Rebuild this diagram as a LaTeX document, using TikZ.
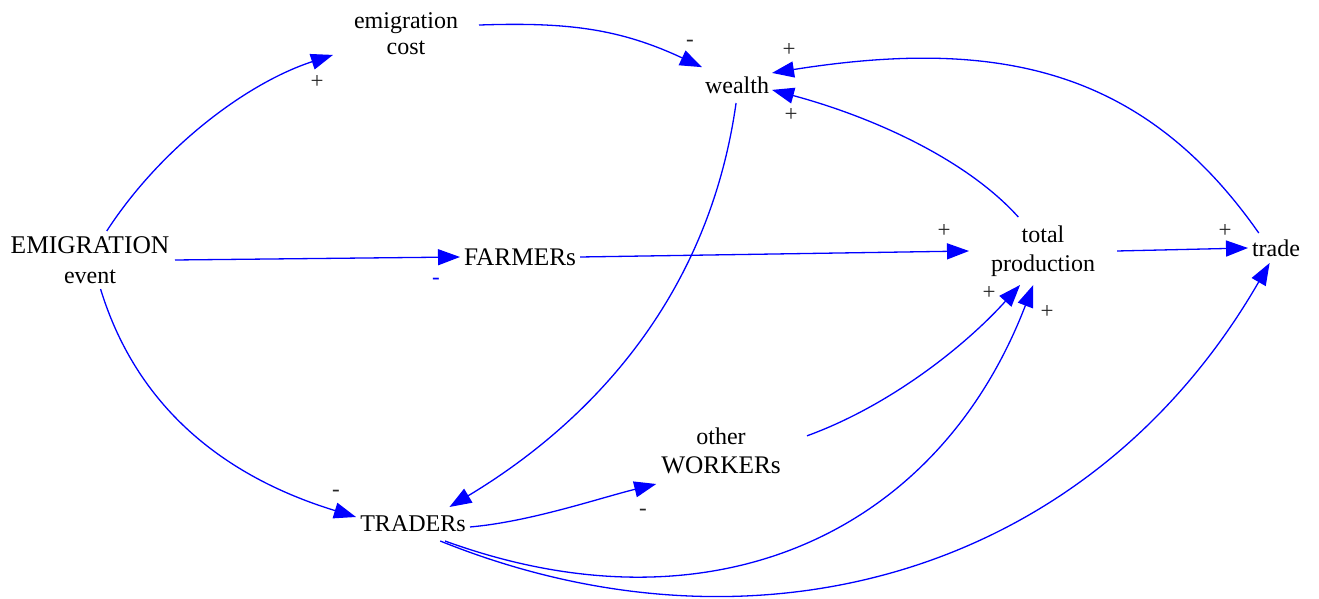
\documentclass[tikz,border=0pt]{standalone}
\usepackage{fontspec}
\setmainfont{Liberation Serif}
\usetikzlibrary{arrows.meta}
\newcommand{\capsize}{\fontsize{25.3}{30}\selectfont}
\begin{document}
\begin{tikzpicture}[x=1pt,y=1pt,
  var/.style={inner sep=0pt, outer sep=0pt, align=center,
    font=\fontsize{24}{27}\selectfont, text=black},
  link/.style={draw=blue, line width=1.3pt,
    -{Triangle[length=22pt,width=16pt]}},
  pol/.style={font=\fontsize{23}{23}\selectfont, text=black!85, inner sep=0pt}
]
\useasboundingbox (0,0) rectangle (1319,599);

% variables
\node[var, font=\fontsize{24}{26}\selectfont, minimum width=146pt, minimum height=48pt]
  (emcost)  at (406,565) {emigration\\cost};
\node[var, minimum width=70pt,  minimum height=36pt] (wealth)  at (737,514) {wealth};
\node[var, font=\fontsize{24}{30}\selectfont, minimum width=170pt, minimum height=58pt]
  (emig)    at (90,339)  {{\fontsize{25.5}{30}\selectfont EMIGRATION}\\event};
\node[var, font=\capsize, minimum width=120pt, minimum height=30pt] (farmers) at (520,342) {FARMERs};
\node[var, font=\fontsize{24}{29}\selectfont, minimum width=148pt, minimum height=68pt]
  (totprod) at (1043,348) {total\\production};
\node[var, minimum width=56pt,  minimum height=30pt] (trade)   at (1276,351) {trade};
\node[var, font=\fontsize{24}{29}\selectfont, minimum width=172pt, minimum height=66pt]
  (other)   at (721,148) {other\\{\capsize WORKERs}};
\node[var, minimum width=114pt, minimum height=34pt] (traders) at (413,75)  {TRADERs};

% causal links
\draw[link] (emig.60) .. controls +(57:100) and +(198:90) .. (emcost.196);
\draw[link] (emcost.7) .. controls +(2:90) and +(155:90) .. (wealth.153);
\draw[link] (trade.139) .. controls +(125:200) and +(9:230) .. (wealth.19);
\draw[link] (totprod.126) .. controls +(132:80) and +(345:100) .. (wealth.-8);
\draw[link] (wealth.267) .. controls +(262:200) and +(31:160) .. (traders.25);
\draw[link] (emig.0) -- (farmers.180);
\draw[link] (farmers.0) -- (totprod.180);
\draw[link] (totprod.0) -- (trade.180);
\draw[link] (emig.-70) .. controls +(287:130) and +(163:130) .. (traders.173);
\draw[link] (traders.-3) .. controls +(5:60) and +(194:60) .. (other.207);
\draw[link] (other.10) .. controls +(20:90) and +(228:80) .. (totprod.236);
\draw[link] (traders.-28) .. controls +(-20:280) and +(249:270) .. (totprod.254);
\draw[link] (traders.-32) .. controls +(-22:338) and +(240:362) .. (trade.247);

% link polarities
\node[pol] (p1)  at (317,517) {+};
\node[pol] (p2)  at (690,556) {-};
\node[pol] (p3)  at (789,549) {+};
\node[pol] (p4)  at (791,484) {+};
\node[pol, text=blue] (p5) at (436,318) {-};
\node[pol] (p6)  at (944,368) {+};
\node[pol] (p7)  at (1225,368) {+};
\node[pol] (p8)  at (336,106) {-};
\node[pol] (p9)  at (643,87) {-};
\node[pol] (p10) at (989,306) {+};
\node[pol] (p11) at (1047,287) {+};
\end{tikzpicture}
\end{document}
